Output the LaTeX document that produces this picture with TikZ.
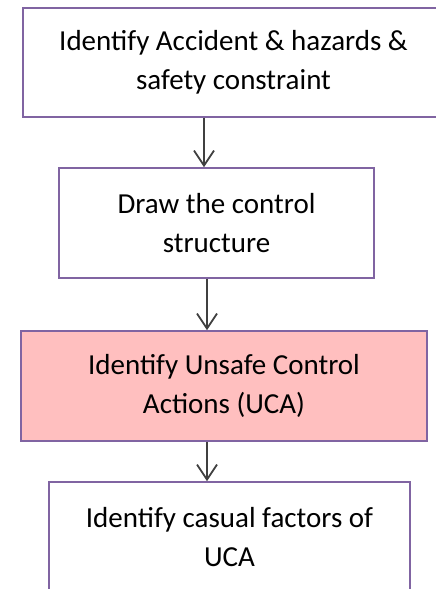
\documentclass[tikz,border=0pt]{standalone}
\usepackage{fontspec}
\setmainfont{Carlito}
\usetikzlibrary{arrows.meta}
\definecolor{boxline}{HTML}{8064A2}
\definecolor{boxpink}{HTML}{FFBFBF}
\definecolor{arrowgray}{HTML}{404040}
\begin{document}
\begin{tikzpicture}[x=1pt,y=-1pt,
  stepbox/.style={draw=boxline, line width=1.6pt, fill=white, align=center,
    inner sep=0pt, font=\fontsize{29}{39}\selectfont},
  flow/.style={draw=arrowgray, line width=1.8pt,
    -{Straight Barb[length=15pt,width=20pt,line width=1.8pt]}}]
  \useasboundingbox (0,0) rectangle (436,589);
  \clip (0,0) rectangle (436,589);
  \node[stepbox, minimum width=421pt, minimum height=109pt] (b1) at (233.5,62.5)
    {Identify Accident \& hazards \&\\safety constraint};
  \node[stepbox, minimum width=315pt, minimum height=110pt] (b2) at (216.5,223)
    {Draw the control\\structure};
  \node[stepbox, fill=boxpink, minimum width=406pt, minimum height=110pt] (b3) at (224,386)
    {Identify Unsafe Control\\Actions (UCA)};
  \node[stepbox, minimum width=361pt, minimum height=110pt] (b4) at (229.5,537)
    {Identify casual factors of\\UCA};
  \coordinate (c1) at (204,0);
  \coordinate (c2) at (207,0);
  \draw[flow] (b1.south -| c1) -- (b2.north -| c1);
  \draw[flow] (b2.south -| c2) -- (b3.north -| c2);
  \draw[flow] (b3.south -| c2) -- (b4.north -| c2);
\end{tikzpicture}
\end{document}
